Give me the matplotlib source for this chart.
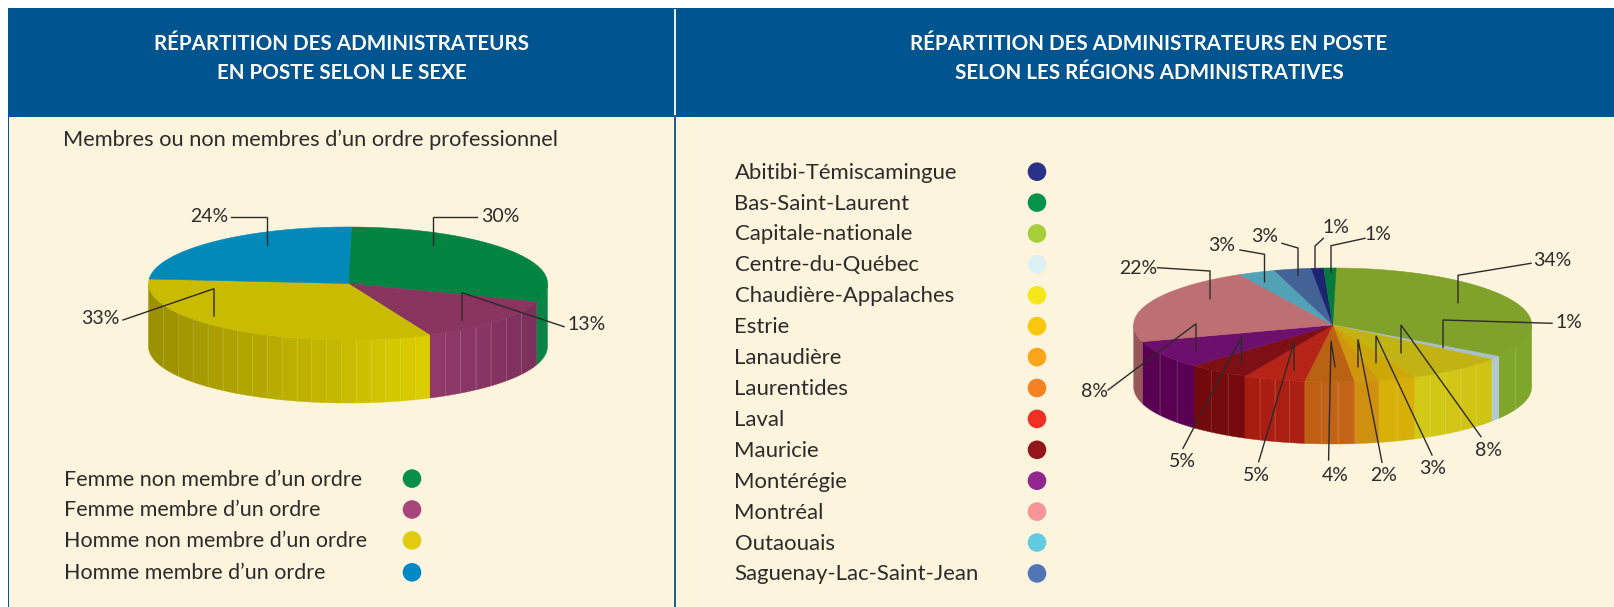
import numpy as np
import matplotlib
matplotlib.use("Agg")
import matplotlib.pyplot as plt
from matplotlib.patches import Polygon, Rectangle, Ellipse
from matplotlib.colors import to_rgb

# ---------- data ----------
titles_left = "RÉPARTITION DES ADMINISTRATEURS\nEN POSTE SELON LE SEXE"
titles_right = "RÉPARTITION DES ADMINISTRATEURS EN POSTE\nSELON LES RÉGIONS ADMINISTRATIVES"
subtitle_left = "Membres ou non membres d’un ordre professionnel"

sex_names = ["Femme non membre d’un ordre", "Femme membre d’un ordre",
             "Homme non membre d’un ordre", "Homme membre d’un ordre"]
sex_values = [30, 13, 33, 24]
sex_dots = ["#0a8f4a", "#a8467c", "#e0cb10", "#0089c4"]
sex_top = ["#038442", "#89355f", "#c9bb00", "#0089b9"]
# wall colours: (right end, left end) of each slice as seen from the front
sex_side = [("#0a7d40", "#0a8a48"), ("#7b2f5b", "#933a6c"),
            ("#dccf00", "#9a8f00"), ("#0089b9", "#0089b9")]

region_names = ["Abitibi-Témiscamingue", "Bas-Saint-Laurent", "Capitale-nationale",
                "Centre-du-Québec", "Chaudière-Appalaches", "Estrie", "Lanaudière",
                "Laurentides", "Laval", "Mauricie", "Montérégie", "Montréal",
                "Outaouais", "Saguenay-Lac-Saint-Jean"]
region_dots = ["#2a3186", "#05924a", "#a6ce39", "#dcf0f5", "#f4e81c", "#fdc70f",
               "#faa61a", "#f58220", "#ee3124", "#93161a", "#92278f", "#f69595",
               "#62cbdf", "#5275b8"]
# clockwise order, starting at the top of the pie
pie_order = ["Capitale-nationale", "Centre-du-Québec", "Chaudière-Appalaches", "Estrie",
             "Lanaudière", "Laurentides", "Laval", "Mauricie", "Montérégie", "Montréal",
             "Outaouais", "Saguenay-Lac-Saint-Jean", "Abitibi-Témiscamingue", "Bas-Saint-Laurent"]
region_values = [34, 1, 8, 3, 2, 4, 5, 5, 8, 22, 3, 3, 1, 1]
region_top = ["#80a22b", "#a9bfca", "#c1b314", "#cda707", "#d0960e", "#b96214", "#b52417",
              "#7e0f15", "#6d0f6c", "#bd7073", "#52a2b7", "#436295", "#1d2570", "#047a3e"]
region_side = [("#7fa62a", "#7fa62a"), ("#b4c8d2", "#b4c8d2"), ("#cfc214", "#d2cb17"),
               ("#d8ae08", "#d8b208"), ("#cf9010", "#cf9010"), ("#c5651a", "#bd5f12"),
               ("#ad1f14", "#a81c10"), ("#740a0c", "#72090c"), ("#5a0052", "#5a0052"),
               ("#97585a", "#97585a"), ("#52a2b7", "#52a2b7"), ("#436295", "#436295"),
               ("#1d2570", "#1d2570"), ("#047a3e", "#047a3e")]

# ---------- leader layout (label anchor, then polyline) ----------
sex_leaders = [((500, 217), [(477, 217), (433, 217), (433, 245)]),
               ((586.5, 324), [(564, 326.7), (462, 292.7), (462, 320)]),
               ((100, 319), [(123, 320), (214, 288.7), (214, 316)]),
               ((209, 217), [(231, 217), (267, 217), (267, 245)])]
region_leaders = [((1552, 260.7), [(1531, 263.3), (1458, 275.3), (1458, 302.7)]),
                  ((1568.6, 322.7), [(1552, 323.3), (1443, 320), (1443, 347.3)]),
                  ((1488, 450.7), [(1481, 436.7), (1401, 325), (1401, 352.7)]),
                  ((1432.6, 468.3), [(1432, 455), (1376, 335.7), (1376, 362.7)]),
                  ((1384, 475.7), [(1382, 462.3), (1358, 339.3), (1358, 366.7)]),
                  ((1335, 475.7), [(1328.6, 460), (1331, 340.7), (1335, 366.7)]),
                  ((1256, 475.7), [(1258.7, 461.7), (1294, 342.7), (1294, 370)]),
                  ((1182, 461.7), [(1183, 448.3), (1241.5, 336.7), (1241.5, 364)]),
                  ((1095, 391.7), [(1108, 390), (1196, 323.7), (1196, 351)]),
                  ((1138.5, 269), [(1157.5, 267.7), (1210, 271), (1210, 298.7)]),
                  ((1222, 245.7), [(1240, 250), (1264.5, 254.3), (1264.5, 281.7)]),
                  ((1265, 236.7), [(1282, 243.3), (1298, 248), (1298, 275.3)]),
                  ((1336, 227.7), [(1323.4, 238.3), (1315, 246), (1315, 269.3)]),
                  ((1377.5, 235), [(1365, 238.3), (1331, 245.7), (1331, 272.7)])]

# ---------- style ----------
BLUE = "#00548f"
CREAM = "#fdf4dd"
INK = "#2d2a2a"
plt.rcParams["font.family"] = ["Lato", "DejaVu Sans"]

fig = plt.figure(figsize=(16.14, 6.07), dpi=100, facecolor="white")
ax = fig.add_axes([0, 0, 1, 1])
ax.set_xlim(0, 1614)
ax.set_ylim(607, 0)
ax.axis("off")

# panels
ax.add_patch(Rectangle((8, 8), 1606, 599, fc=CREAM, ec="none", zorder=0))
ax.add_patch(Rectangle((8, 8), 1606, 109, fc=BLUE, ec="none", zorder=1))
ax.add_patch(Rectangle((8, 117), 1, 490, fc=BLUE, ec="none", zorder=1))
ax.plot([674.5, 674.5], [10, 116], color="white", lw=1.3, zorder=2)
ax.plot([674.5, 674.5], [116, 607], color=BLUE, lw=1.3, zorder=2)

# headers
for cx, s in [(342, titles_left), (1149, titles_right)]:
    a, b = s.split("\n")
    ax.text(cx, 44, a, color="white", fontsize=14.9, fontweight="bold", ha="center", va="center", zorder=3)
    ax.text(cx, 73, b, color="white", fontsize=14.9, fontweight="bold", ha="center", va="center", zorder=3)

ax.text(63, 140, subtitle_left, color=INK, fontsize=15.7, ha="left", va="center")


def mix(c1, c2, t):
    a, b = np.array(to_rgb(c1)), np.array(to_rgb(c2))
    return tuple(a + (b - a) * t)


def pie3d(values, tops, sides, cx, cy, rx, ry, depth, start=89.0, facet=14.5):
    angles = start - np.cumsum([0] + list(values)) * 3.6
    for i, top in enumerate(tops):
        a0, a1 = angles[i], angles[i + 1]
        # wall: only the part facing the viewer (sin(angle) < 0)
        lo, hi = max(a1, -180.0), min(a0, 0.0)
        if hi > lo:
            x0, x1 = np.cos(np.radians(hi)), np.cos(np.radians(lo))
            n = max(1, int(abs(x1 - x0) * rx / facet))
            edges = -np.degrees(np.arccos(np.clip(np.linspace(x0, x1, n + 1), -1, 1)))
            for k in range(n):
                t = np.linspace(edges[k], edges[k + 1], 8)
                xs = cx + rx * np.cos(np.radians(t))
                ys = cy - ry * np.sin(np.radians(t))
                pts = np.r_[np.c_[xs, ys], np.c_[xs, ys + depth][::-1]]
                col = mix(sides[i][0], sides[i][1], (k + 0.5) / n)
                ax.add_patch(Polygon(pts, closed=True, fc=col, ec=col, lw=0.3, zorder=4))
                if k:
                    ax.plot([xs[0], xs[0]], [ys[0], ys[0] + depth], color="white", alpha=0.12,
                            lw=0.7, zorder=4.5)
        # top face
        t = np.linspace(a0, a1, 90)
        xs = cx + rx * np.cos(np.radians(t))
        ys = cy - ry * np.sin(np.radians(t))
        pts = np.r_[[[cx, cy]], np.c_[xs, ys]]
        ax.add_patch(Polygon(pts, closed=True, fc=top, ec=top, lw=0.4, zorder=5))


def leaders(values, layout):
    for v, (lab, line) in zip(values, layout):
        xs, ys = zip(*line)
        ax.plot(xs, ys, color=INK, lw=1.0, zorder=6, solid_joinstyle="miter")
        ax.text(lab[0], lab[1], f"{v}%", color=INK, fontsize=14, ha="center", va="center", zorder=7)


def legend(names, colors, tx, dx, ys, size):
    for n, c, y in zip(names, colors, ys):
        ax.text(tx, y + 1, n, color=INK, fontsize=size, ha="left", va="center", zorder=3)
        ax.add_patch(Ellipse((dx, y), 18.6, 18.6, fc=c, ec="none", zorder=3))


pie3d(sex_values, sex_top, sex_side, 348, 283.5, 199.5, 56.5, 63)
leaders(sex_values, sex_leaders)
pie3d(region_values, region_top, region_side, 1332.7, 325, 199, 57, 62)
leaders(region_values, region_leaders)

legend(sex_names, sex_dots, 64, 412, [478.6, 509.5, 540.4, 572.3], 15.5)
legend(region_names, region_dots, 734.5, 1037, [171.7 + 30.9 * i for i in range(len(region_names))], 15.9)

fig.savefig("out.png", dpi=100)
